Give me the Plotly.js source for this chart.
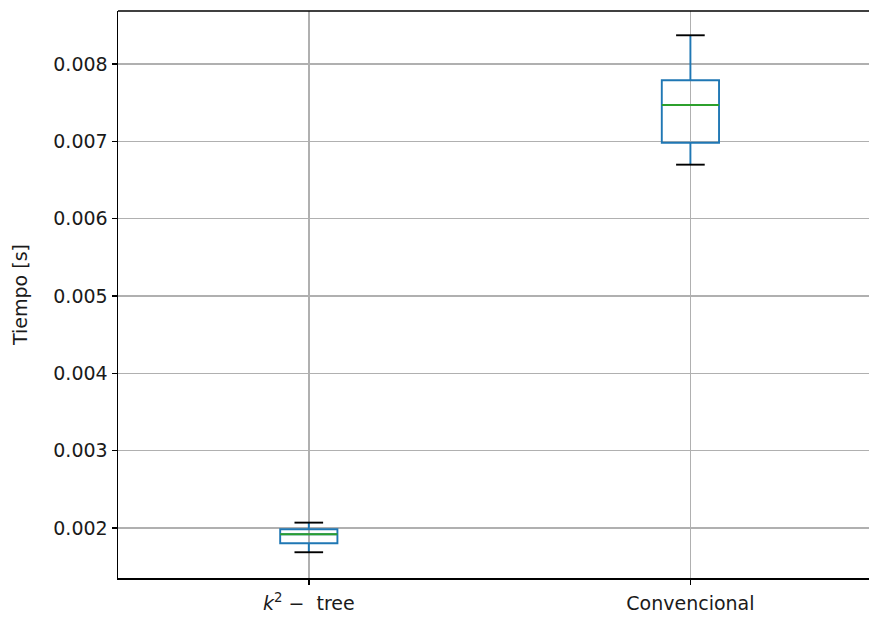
<!DOCTYPE html>
<html>
<head>
<meta charset="utf-8">
<script src="https://cdn.plot.ly/plotly-3.0.1.min.js"></script>
<style>html,body{margin:0;padding:0;background:#fff;overflow:hidden;}#chart{width:869px;height:618px;}</style>
</head>
<body>
<div id="chart"></div>
<script>
// Data
var categories = ["<i>k</i><sup>2</sup> −  tree", "Convencional"];
var positions = [1, 2];
var q1Values = [0.001802, 0.006982];
var medianValues = [0.001919, 0.007470];
var q3Values = [0.001983, 0.007789];
var lowerWhisker = [0.001686, 0.006698];
var upperWhisker = [0.002069, 0.008371];
var yTicks = [0.002, 0.003, 0.004, 0.005, 0.006, 0.007, 0.008];

var boxWidth = 0.15;
var capX = [], capY = [], medX = [], medY = [];
for (var i = 0; i < positions.length; i++) {
  var p = positions[i];
  capX.push(p - boxWidth / 4, p + boxWidth / 4, null, p - boxWidth / 4, p + boxWidth / 4, null);
  capY.push(lowerWhisker[i], lowerWhisker[i], null, upperWhisker[i], upperWhisker[i], null);
  medX.push(p - boxWidth / 2, p + boxWidth / 2, null);
  medY.push(medianValues[i], medianValues[i], null);
}

var traces = [
  {
    type: 'box', x: positions, q1: q1Values, median: medianValues, q3: q3Values,
    lowerfence: lowerWhisker, upperfence: upperWhisker,
    width: boxWidth, whiskerwidth: 0,
    line: {color: '#1f77b4', width: 1.9}, fillcolor: 'rgba(0,0,0,0)',
    boxpoints: false, showlegend: false, hoverinfo: 'skip'
  },
  {
    type: 'scatter', mode: 'lines', x: capX, y: capY,
    line: {color: '#000000', width: 1.9}, showlegend: false, hoverinfo: 'skip', connectgaps: false
  },
  {
    type: 'scatter', mode: 'lines', x: medX, y: medY,
    line: {color: '#2ca02c', width: 1.9}, showlegend: false, hoverinfo: 'skip', connectgaps: false
  }
];

var font = {family: 'DejaVu Sans, sans-serif', size: 19, color: '#1a1a1a'};
var layout = {
  width: 869, height: 618,
  margin: {l: 118, r: 0, t: 11, b: 40, pad: 0},
  paper_bgcolor: '#ffffff', plot_bgcolor: '#ffffff',
  font: font, showlegend: false, hovermode: false,
  xaxis: {
    range: [0.5, 2.468], tickvals: positions, ticktext: categories,
    showgrid: true, gridcolor: '#b0b0b0', gridwidth: 1.5,
    showline: true, linecolor: '#000000', linewidth: 1.5, mirror: false,
    ticks: 'outside', ticklen: 5, tickwidth: 1.5, tickcolor: '#000000',
    ticklabelstandoff: 3,
    zeroline: false, tickfont: font
  },
  yaxis: {
    range: [0.001353, 0.008685], tickvals: yTicks, tickformat: '.3f',
    showgrid: true, gridcolor: '#b0b0b0', gridwidth: 1.5,
    showline: true, linecolor: '#000000', linewidth: 1.5, mirror: false,
    ticks: 'outside', ticklen: 5, tickwidth: 1.5, tickcolor: '#000000',
    zeroline: false, tickfont: font,
    title: {text: 'Tiempo [s]', font: font, standoff: 20}
  },
  shapes: [
    {type: 'line', xref: 'paper', yref: 'paper', x0: 0, x1: 1, y0: 1, y1: 1,
     line: {color: '#000000', width: 1.5}}
  ]
};

Plotly.newPlot('chart', traces, layout, {displayModeBar: false, staticPlot: true});
</script>
</body>
</html>
